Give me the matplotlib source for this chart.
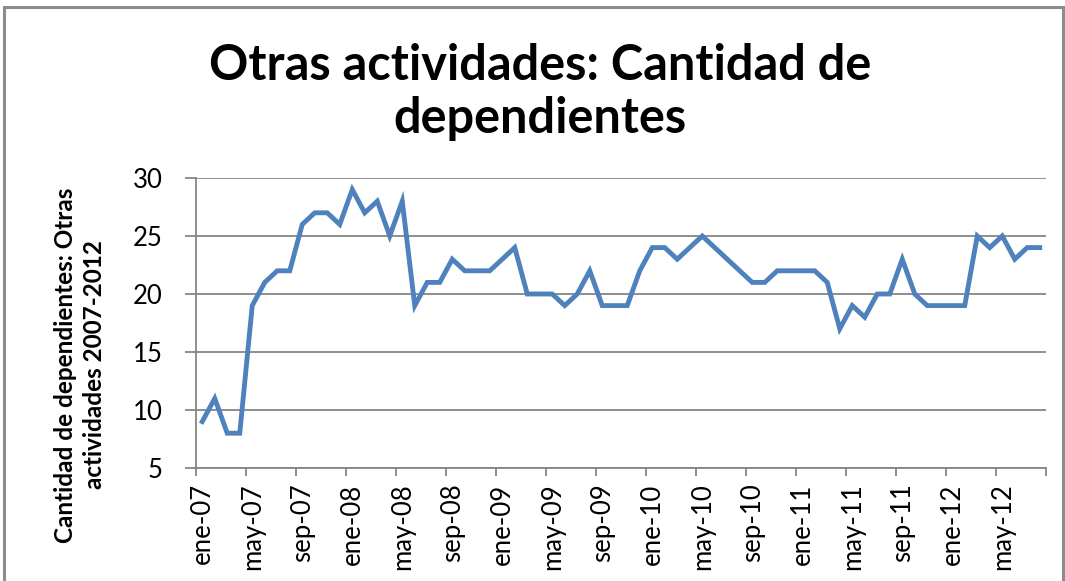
import matplotlib
matplotlib.use("Agg")
import matplotlib.pyplot as plt
from matplotlib.patches import Rectangle

plt.rcParams['font.family'] = ['Lato', 'DejaVu Sans']

# monthly values ene-07 .. ago-12
meses = ['ene', 'feb', 'mar', 'abr', 'may', 'jun', 'jul', 'ago', 'sep', 'oct', 'nov', 'dic']
anios = ['07', '08', '09', '10', '11', '12']
etiquetas = [m + '-' + a for a in anios for m in meses][:68]

valores = [9, 11, 8, 8, 19, 21, 22, 22, 26, 27, 27, 26,
           29, 27, 28, 25, 28, 19, 21, 21, 23, 22, 22, 22,
           23, 24, 20, 20, 20, 19, 20, 22, 19, 19, 19, 22,
           24, 24, 23, 24, 25, 24, 23, 22, 21, 21, 22, 22,
           22, 22, 21, 17, 19, 18, 20, 20, 23, 20, 19, 19,
           19, 19, 25, 24, 25, 23, 24, 24]

titulo = "Otras actividades: Cantidad de\ndependientes"
ylab = "Cantidad de dependientes: Otras\nactividades 2007-2012"

gris = '#868686'

fig = plt.figure(figsize=(10.65, 5.81), dpi=100)
fig.patches.append(Rectangle((4 / 1065, -0.1), 1059 / 1065, 1.1 - 7 / 581,
                             transform=fig.transFigure, fill=False,
                             edgecolor='#8c8c8c', linewidth=2.2))

ax = fig.add_axes([196 / 1065, 1 - 468 / 581, 850 / 1065, 290 / 581])
x = list(range(len(valores)))
ax.plot(x, valores, color='#4F81BD', linewidth=3.5, solid_joinstyle='miter')

ax.set_ylim(5, 30)
ax.set_yticks([5, 10, 15, 20, 25, 30])
ax.set_xlim(-0.5, len(valores) - 0.5)
ax.yaxis.grid(True, color=gris, linewidth=1.3)
ax.set_axisbelow(True)

# tick marks between categories, labels every 4 months
ax.set_xticks([k - 0.5 for k in range(0, len(valores) + 1, 4)])
ax.set_xticklabels([])
ax.set_xticks(x[::4], minor=True)
ax.set_xticklabels(etiquetas[::4], minor=True, rotation=90, fontsize=18.5)
ax.tick_params(axis='x', which='minor', length=0, pad=11)
ax.tick_params(axis='x', which='major', length=6, color=gris, width=1.3)
ax.tick_params(axis='y', length=8, color=gris, width=1.3, labelsize=18.5, pad=16)

for s in ['top', 'right']:
    ax.spines[s].set_visible(False)
for s in ['left', 'bottom']:
    ax.spines[s].set_color(gris)
    ax.spines[s].set_linewidth(1.3)

fig.text(540 / 1065, 1 - 92 / 581, titulo, ha='center', va='center',
         fontsize=35, fontweight='bold', linespacing=1.22)
fig.text(80 / 1065, 1 - 365 / 581, ylab, ha='center', va='center', rotation=90,
         fontsize=17.5, fontweight='bold', linespacing=1.3)

fig.savefig('out.png', dpi=100)
